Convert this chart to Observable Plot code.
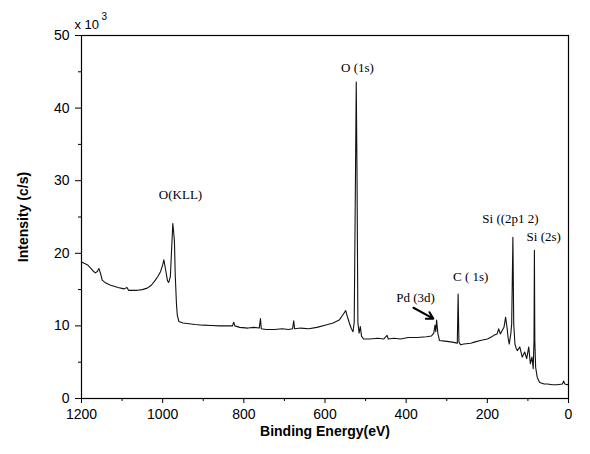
<!DOCTYPE html>
<html><head><meta charset="utf-8">
<script src="https://cdn.jsdelivr.net/npm/d3@7"></script>
<script src="https://cdn.jsdelivr.net/npm/@observablehq/plot@0.6"></script>
<style>body{margin:0;background:#fff}</style>
</head><body><div id="chart"></div>
<script>
// Binding energy (eV) and intensity (x10^3 c/s)
const energy = [1200,1192,1185,1178,1172,1166,1161,1157,1153,1149,1140,1128,1110,1095,1088,1084,1063,1050,1038,1028,1018,1012,1005,1000,997,993,988,985,981,978,975,973,971,969,966,964,960,950,935,920,900,880,860,840,828,825,822,810,790,775,762,759,757,745,725,705,690,680,677,675,660,640,620,600,580,565,555,549,545,540,535,531,528,525,523,521,519,516,513,510,505,490,470,455,447,444,430,414,395,373,350,338,332,329,327,325,322,318,305,290,280,274,272,270,266,258,241,230,217,200,192,184,176,172,168,163,159,155,151,149,146,142,140,137,135,132,129,126,120,117,114,108,103,98,94,90,87,85,84,83,81,77,71,60,52,40,28,15,12,9,3,0];
const intensity = [18.8,18.6,18.4,18.0,17.6,17.3,17.5,17.9,17.2,16.3,15.9,15.6,15.3,15.1,15.3,14.9,14.9,15.0,15.2,15.6,16.3,16.8,17.5,18.4,19.1,17.8,16.2,16.0,16.8,20.5,24.1,23.0,21.6,17.0,13.0,11.5,10.6,10.4,10.3,10.2,10.1,10.05,10.0,10.0,10.0,10.5,10.0,9.8,9.7,9.8,9.7,11.0,9.6,9.5,9.5,9.6,9.5,9.6,10.7,9.6,9.7,9.6,9.8,10.1,10.4,10.8,11.6,12.1,11.3,10.4,9.6,9.2,10.5,30,43.6,30,10.5,9.0,9.9,8.6,8.2,8.2,8.3,8.2,8.7,8.2,8.3,8.2,8.4,8.4,8.5,8.6,9.0,10.1,9.2,10.8,9.0,8.0,7.9,7.8,7.7,7.6,14.4,7.8,7.4,7.5,7.6,7.8,8.0,8.2,8.4,8.7,8.9,9.6,8.9,9.4,9.8,11.2,9.6,8.4,7.5,9.0,10.3,22.2,10.3,7.5,6.9,6.6,7.1,6.4,5.7,6.4,5.5,7.1,4.8,5.7,4.1,8.0,20.4,8.0,4.3,2.9,2.2,2.0,2.0,1.9,1.9,2.0,2.4,2.0,1.9,2.0];

const xTicks = [1200,1000,800,600,400,200,0];
const xMinor = [1100,900,700,500,300,100];
const yTicks = [0,10,20,30,40,50];
const yMinor = [5,15,25,35,45];

const peakLabels = ["O (1s)","O(KLL)","Pd (3d)","C ( 1s)","Si ((2p1 2)","Si (2s)"];
const labelEnergy = [520,956,377,241,143,61];
const labelIntensity = [45.5,28.0,13.9,16.7,24.8,22.3];

const arrowEnergy = [382,333];
const arrowIntensity = [12.5,11.0];

const spectrum = energy.map((e,i)=>({e, v:intensity[i]}));
const labels = peakLabels.map((t,i)=>({t, e:labelEnergy[i], v:labelIntensity[i]}));
const arrows = [{x1:arrowEnergy[0], y1:arrowIntensity[0], x2:arrowEnergy[1], y2:arrowIntensity[1]}];

const chart = Plot.plot({
  width: 590, height: 454,
  marginLeft: 81, marginRight: 22, marginTop: 35, marginBottom: 56,
  style: {fontFamily: "'Liberation Sans', Arial, sans-serif", fontSize: "14px", background: "#fff", color: "#000"},
  x: {domain: [1200, 0]},
  y: {domain: [0, 50]},
  marks: [
    Plot.frame({stroke: "#000", strokeWidth: 1.2}),
    Plot.axisX({ticks: xTicks, tickSize: 5, tickPadding: 6, tickFormat: d=>String(d), fontSize: 14,
      label: "Binding Energy(eV)", labelAnchor: "center", labelOffset: 37, labelArrow: "none"}),
    Plot.axisX({ticks: xMinor, tickSize: 3, text: null, label: null}),
    Plot.axisY({ticks: yTicks, tickSize: 6, tickPadding: 6, fontSize: 14,
      label: "Intensity (c/s)", labelAnchor: "center", labelOffset: 63, labelArrow: "none"}),
    Plot.axisY({ticks: yMinor, tickSize: 3, text: null, label: null}),
    Plot.line(spectrum, {x: "e", y: "v", stroke: "#111", strokeWidth: 1.1}),
    Plot.text(labels, {x: "e", y: "v", text: "t", fontFamily: "'Liberation Serif', 'DejaVu Serif', serif", fontSize: 13, fill: "#000"}),
    Plot.arrow(arrows, {x1: "x1", y1: "y1", x2: "x2", y2: "y2", stroke: "#000", strokeWidth: 2, headLength: 7}),
    Plot.text(["x 10"], {frameAnchor: "top-left", textAnchor: "start", dx: -7, dy: -16, fontSize: 13}),
    Plot.text(["3"], {frameAnchor: "top-left", textAnchor: "start", dx: 20, dy: -23, fontSize: 10})
  ]
});
chart.querySelectorAll("[aria-label='x-axis label'], [aria-label='y-axis label']").forEach(g=>g.setAttribute("font-weight","bold"));
document.getElementById("chart").appendChild(chart);
</script></body></html>
